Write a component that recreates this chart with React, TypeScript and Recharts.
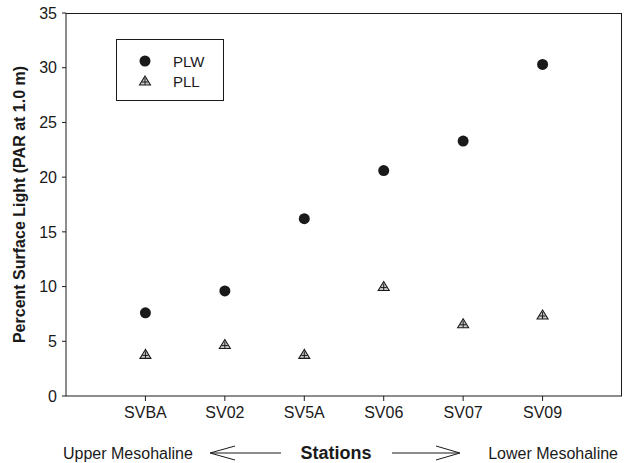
import React from 'react';
import { ScatterChart, Scatter, XAxis, YAxis, Legend } from 'recharts';

const stations = ['SVBA', 'SV02', 'SV5A', 'SV06', 'SV07', 'SV09'];
const plwValues = [7.6, 9.6, 16.2, 20.6, 23.3, 30.3];
const pllValues = [3.8, 4.7, 3.8, 10.0, 6.6, 7.4];
const yTicks = [0, 5, 10, 15, 20, 25, 30, 35];
const xTicks = [1, 2, 3, 4, 5, 6];
const yMax = 35;
const xMax = 7;

const plwData = stations.map((s, i) => ({ x: i + 1, y: plwValues[i], station: s }));
const pllData = stations.map((s, i) => ({ x: i + 1, y: pllValues[i], station: s }));

const FONT = '"Liberation Sans", Arial, Helvetica, sans-serif';
const INK = '#1a1a1a';

// chart layout
const CHART_W = 624;
const CHART_H = 463;
const M_TOP = 13;
const M_RIGHT = 2;
const Y_AXIS_W = 66;
const X_AXIS_H = 67;
const PLOT_LEFT = Y_AXIS_W;
const PLOT_RIGHT = CHART_W - M_RIGHT;
const PLOT_TOP = M_TOP;
const PLOT_BOTTOM = CHART_H - X_AXIS_H;

const Circle = (props: any) => {
  const { cx, cy } = props;
  return <circle cx={cx} cy={cy} r={5.5} fill={INK} />;
};

const Tri = (props: any) => {
  const { cx, cy } = props;
  return (
    <g>
      <path d={`M${cx},${cy - 5} L${cx - 5.5},${cy + 4} L${cx + 5.5},${cy + 4} Z`} fill="#c8c8c8" stroke={INK} strokeWidth={1.1} />
      <line x1={cx} y1={cy - 3} x2={cx} y2={cy + 4} stroke={INK} strokeWidth={1} />
      <line x1={cx - 3} y1={cy + 1} x2={cx + 3} y2={cy + 1} stroke={INK} strokeWidth={1} />
    </g>
  );
};

const LegendBox = () => (
  <svg width={108} height={62} style={{ display: 'block' }}>
    <rect x={0.5} y={0.5} width={107} height={61} fill="#fff" stroke={INK} strokeWidth={1} />
    <Circle cx={29} cy={22} />
    <text x={57} y={27.5} fontSize={15} fontFamily={FONT} fill={INK}>PLW</text>
    <Tri cx={29} cy={42} />
    <text x={57} y={47.5} fontSize={15} fontFamily={FONT} fill={INK}>PLL</text>
  </svg>
);

const YLabel = () => {
  const cy = (PLOT_TOP + PLOT_BOTTOM) / 2;
  const cx = 19;
  return (
    <text x={cx} y={cy} transform={`rotate(-90, ${cx}, ${cy})`} textAnchor="middle" dominantBaseline="central"
      fontSize={16} fontWeight="bold" fontFamily={FONT} fill={INK}>
      Percent Surface Light (PAR at 1.0 m)
    </text>
  );
};

const XLabel = () => {
  const y = 459;
  const ay = 453;
  return (
    <g fontFamily={FONT} fill={INK}>
      <path d={`M${PLOT_LEFT},${PLOT_TOP + 0.5} L${PLOT_RIGHT - 0.5},${PLOT_TOP + 0.5} L${PLOT_RIGHT - 0.5},${PLOT_BOTTOM}`} fill="none" stroke={INK} strokeWidth={1} />
      <text x={63} y={y} fontSize={16} textAnchor="start">Upper Mesohaline</text>
      <path d={`M235,446 L210,${ay} L235,460`} fill="none" stroke={INK} strokeWidth={1} />
      <line x1={212} y1={ay} x2={281} y2={ay} stroke={INK} strokeWidth={1} />
      <text x={336} y={y} fontSize={18} fontWeight="bold" textAnchor="middle">Stations</text>
      <line x1={392} y1={ay} x2={458} y2={ay} stroke={INK} strokeWidth={1} />
      <path d={`M436,446 L460,${ay} L436,460`} fill="none" stroke={INK} strokeWidth={1} />
      <text x={618} y={y} fontSize={16} textAnchor="end">Lower Mesohaline</text>
    </g>
  );
};

export default function App() {
  return (
    <div style={{ position: 'absolute', left: 0, top: 0, background: '#fff' }}>
      <ScatterChart width={CHART_W} height={CHART_H} margin={{ top: M_TOP, right: M_RIGHT, bottom: 0, left: 0 }}>
        <XAxis
          dataKey="x"
          type="number"
          domain={[0, xMax]}
          ticks={xTicks}
          interval={0}
          tickFormatter={(v: number) => stations[v - 1]}
          height={X_AXIS_H}
          tickSize={5}
          tickMargin={6}
          stroke={INK}
          tick={{ fill: INK, fontSize: 16, fontFamily: FONT }}
          label={<XLabel />}
        />
        <YAxis
          dataKey="y"
          type="number"
          domain={[0, yMax]}
          ticks={yTicks}
          interval={0}
          width={Y_AXIS_W}
          tickSize={4}
          tickMargin={5}
          stroke={INK}
          tick={{ fill: INK, fontSize: 16, fontFamily: FONT }}
          label={<YLabel />}
        />
        <Legend
          layout="vertical"
          align="center"
          verticalAlign="middle"
          content={<LegendBox />}
          wrapperStyle={{ position: 'absolute', left: 116, top: 39, width: 108, height: 62 }}
        />
        <Scatter name="PLW" data={plwData} shape={<Circle />} isAnimationActive={false} />
        <Scatter name="PLL" data={pllData} shape={<Tri />} isAnimationActive={false} />
      </ScatterChart>
      <div
        style={{
          position: 'absolute',
          left: PLOT_LEFT,
          top: PLOT_TOP,
          width: PLOT_RIGHT - PLOT_LEFT,
          height: PLOT_BOTTOM - PLOT_TOP,
          boxSizing: 'border-box',
          borderTop: `1px solid ${INK}`,
          borderRight: `1px solid ${INK}`,
          pointerEvents: 'none',
        }}
      />
    </div>
  );
}
